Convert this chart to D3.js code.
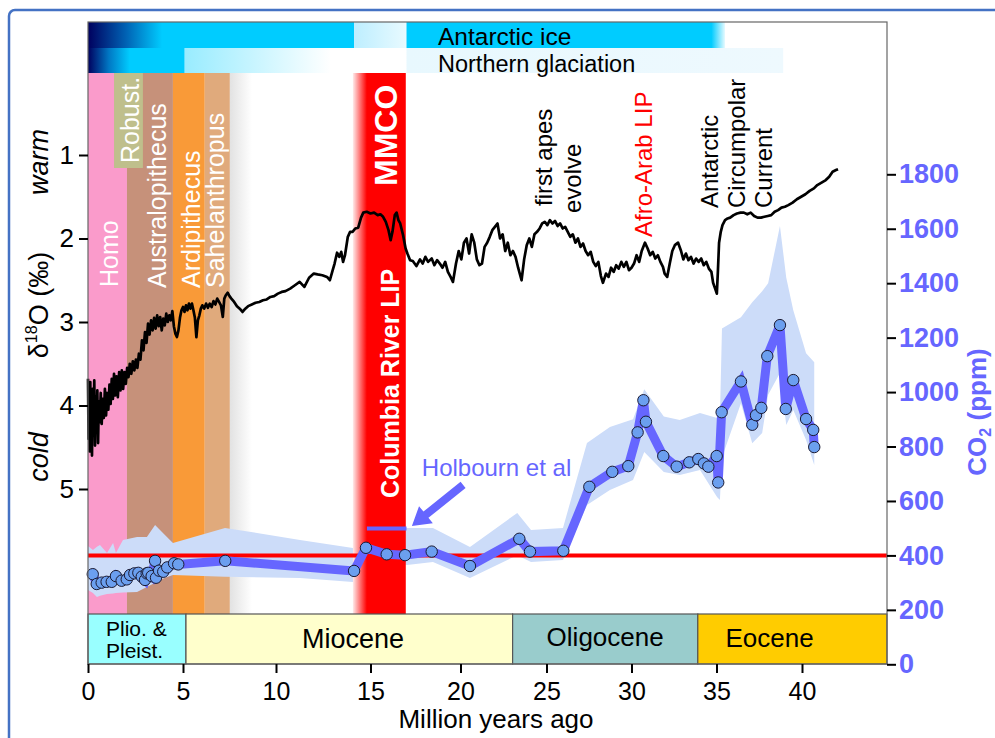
<!DOCTYPE html>
<html><head><meta charset="utf-8">
<script src="https://cdn.jsdelivr.net/npm/d3@7"></script>
<style>
body{margin:0;background:#fff}
svg{display:block}
text{font-family:"Liberation Sans",Arial,Helvetica,sans-serif}
</style>
</head><body>
<svg id="chart" width="995" height="738"></svg>
<script>
// ---------------- DATA ----------------
const ageTicks = [0,5,10,15,20,25,30,35,40];
const d18oTicks = [1,2,3,4,5];
const co2Ticks = [0,200,400,600,800,1000,1200,1400,1600,1800];

// benthic d18O (age Ma, permil)
const d18o = [
[0.00,3.68],[0.03,4.40],[0.06,3.75],[0.09,4.55],[0.12,3.72],[0.15,4.35],[0.18,3.85],[0.21,4.60],[0.25,3.80],[0.29,4.25],
[0.33,3.70],[0.37,4.48],[0.41,3.90],[0.45,4.30],[0.49,3.82],[0.53,4.45],[0.57,3.95],[0.62,4.20],[0.67,3.85],[0.72,4.22],
[0.77,3.92],[0.83,4.15],[0.89,3.80],[0.95,4.12],[1.01,3.85],[1.07,4.05],[1.13,3.75],[1.19,3.98],[1.25,3.68],[1.31,3.92],
[1.37,3.62],[1.43,3.88],[1.50,3.65],[1.57,3.90],[1.64,3.60],[1.71,3.82],[1.78,3.58],[1.85,3.80],[1.92,3.60],[1.99,3.74],
[2.06,3.55],[2.13,3.66],[2.20,3.50],[2.28,3.62],[2.36,3.47],[2.44,3.58],[2.52,3.45],[2.60,3.55],[2.68,3.38],[2.76,3.45],
[2.84,3.22],[2.92,3.34],[3.00,3.12],[3.08,3.25],[3.16,3.02],[3.24,3.15],[3.32,2.98],[3.40,3.10],[3.48,2.95],[3.56,3.08],
[3.64,2.92],[3.72,3.05],[3.80,2.94],[3.88,3.10],[3.96,2.96],[4.04,3.04],[4.12,2.90],[4.20,3.00],[4.28,2.92],[4.36,2.98],
[4.44,2.87],[4.52,3.05],[4.60,3.14],[4.68,3.18],[4.76,3.10],[4.84,2.95],[4.92,2.86],[5.00,2.82],[5.08,2.88],[5.16,2.80],
[5.24,2.86],[5.32,2.78],[5.40,2.84],[5.48,2.78],[5.56,2.86],[5.64,2.95],[5.72,3.18],[5.80,2.98],[5.88,2.92],[5.96,2.84],
[6.04,2.80],[6.14,2.84],[6.24,2.78],[6.34,2.83],[6.44,2.78],[6.54,2.82],[6.64,2.75],[6.74,2.79],[6.84,2.72],[6.94,2.76],
[7.04,2.80],[7.14,2.94],[7.22,2.72],[7.30,2.68],[7.40,2.65],[7.50,2.69],[7.60,2.72],[7.75,2.76],[7.90,2.81],[8.05,2.84],
[8.20,2.88],[8.35,2.84],[8.50,2.81],[8.70,2.79],[8.90,2.77],[9.10,2.76],[9.30,2.74],[9.50,2.73],[9.70,2.70],[9.90,2.69],
[10.10,2.66],[10.30,2.64],[10.50,2.63],[10.75,2.60],[11.00,2.56],[11.25,2.52],[11.50,2.58],[11.75,2.47],[12.00,2.42],[12.20,2.43],
[12.45,2.44],[12.70,2.46],[12.85,2.50],[13.00,2.38],[13.10,2.30],[13.23,2.17],[13.35,2.22],[13.45,2.16],[13.55,2.28],[13.65,2.20],
[13.80,1.98],[13.92,1.92],[14.05,1.92],[14.20,1.88],[14.35,1.87],[14.50,1.75],[14.62,1.69],[14.80,1.68],[15.00,1.70],[15.20,1.69],
[15.40,1.72],[15.55,1.71],[15.70,1.74],[15.85,1.80],[16.00,1.90],[16.12,2.02],[16.22,1.92],[16.35,1.72],[16.45,1.69],[16.55,1.78],
[16.65,1.82],[16.80,1.95],[16.95,2.12],[17.05,2.18],[17.20,2.26],[17.35,2.27],[17.55,2.33],[17.75,2.25],[17.90,2.30],[18.05,2.22],
[18.20,2.28],[18.40,2.24],[18.55,2.32],[18.70,2.26],[18.85,2.30],[19.00,2.35],[19.15,2.28],[19.30,2.40],[19.45,2.46],[19.58,2.52],
[19.75,2.30],[19.90,2.15],[20.05,2.25],[20.20,2.05],[20.35,2.00],[20.50,2.18],[20.65,1.95],[20.80,2.05],[20.95,2.25],[21.10,2.32],
[21.25,2.30],[21.40,2.10],[21.55,2.05],[21.70,1.98],[21.85,1.90],[22.00,1.86],[22.15,1.82],[22.30,2.00],[22.45,1.95],[22.60,2.15],
[22.75,2.05],[22.90,2.20],[23.05,2.15],[23.20,2.22],[23.35,2.35],[23.55,2.50],[23.70,2.25],[23.85,2.08],[24.00,2.00],[24.15,2.10],
[24.30,1.95],[24.45,1.92],[24.60,1.88],[24.75,1.82],[24.90,1.80],[25.05,1.84],[25.20,1.78],[25.35,1.82],[25.50,1.79],[25.65,1.85],
[25.80,1.82],[25.95,1.88],[26.10,1.86],[26.25,1.92],[26.40,1.98],[26.55,1.95],[26.70,2.05],[26.85,2.00],[27.00,2.10],[27.15,2.06],
[27.30,2.15],[27.45,2.20],[27.60,2.16],[27.75,2.28],[27.90,2.33],[28.05,2.28],[28.20,2.45],[28.32,2.53],[28.50,2.42],[28.65,2.46],
[28.80,2.35],[28.95,2.40],[29.10,2.32],[29.25,2.36],[29.40,2.28],[29.55,2.34],[29.70,2.28],[29.85,2.38],[30.00,2.35],[30.15,2.30],
[30.30,2.20],[30.45,2.28],[30.60,2.15],[30.79,2.05],[30.95,2.12],[31.10,2.20],[31.25,2.16],[31.40,2.24],[31.55,2.20],[31.70,2.28],
[31.85,2.34],[31.95,2.42],[32.10,2.46],[32.25,2.30],[32.40,2.15],[32.55,2.08],[32.74,2.05],[32.90,2.14],[33.05,2.25],[33.20,2.18],
[33.35,2.26],[33.50,2.22],[33.65,2.30],[33.80,2.24],[33.95,2.28],[34.10,2.24],[34.25,2.32],[34.40,2.28],[34.55,2.36],[34.70,2.40],
[34.80,2.53],[34.92,2.60],[35.02,2.66],[35.08,2.40],[35.15,2.05],[35.25,1.92],[35.35,1.84],[35.50,1.78],[35.65,1.76],[35.80,1.75],
[36.00,1.72],[36.20,1.70],[36.40,1.69],[36.60,1.69],[36.80,1.71],[37.00,1.69],[37.20,1.73],[37.40,1.75],[37.60,1.75],[37.80,1.74],
[38.00,1.73],[38.20,1.72],[38.40,1.68],[38.60,1.66],[38.80,1.63],[39.00,1.62],[39.20,1.60],[39.45,1.57],[39.70,1.53],[39.95,1.50],
[40.20,1.47],[40.45,1.43],[40.70,1.40],[40.90,1.36],[41.15,1.33],[41.40,1.30],[41.60,1.26],[41.80,1.20],[42.00,1.18],[42.12,1.17]
];

// CO2 proxy points (age Ma, ppm)
const co2Points = [
[0.25,331],[0.46,295],[0.72,300],[0.98,303],[1.25,303],[1.47,324],[1.77,307],[2.04,312],[2.21,328],[2.44,334],
[2.65,336],[2.83,322],[3.00,310],[3.09,334],[3.17,336],[3.35,324],[3.53,380],[3.58,318],[3.74,344],[3.96,340],
[4.17,356],[4.53,371],[4.75,367],[7.27,380],[14.13,343],[14.76,428],[15.90,404],[16.92,401],[18.40,414],[20.55,361],
[23.42,461],[24.04,414],[25.99,417],[27.52,652],[28.87,707],[29.81,728],[30.36,852],[30.70,970],[30.85,891],[31.87,765],[32.66,726],
[33.40,742],[33.93,754],[34.26,738],[34.52,726],[35.01,765],[35.10,668],[35.30,926],[36.43,1039],[37.09,880],[37.31,915],
[37.62,942],[37.97,1132],[38.71,1246],[39.05,938],[39.49,1044],[40.24,901],[40.66,861],[40.72,798]
];

// CO2 uncertainty envelope
const bandAge  = [0,0.26,0.47,0.63,1.0,1.32,1.47,1.84,2.58,3.1,3.53,4.05,4.47,7.26,11.27,14.07,14.81,15.53,17.03,18.47,20.55,23.3,24.1,25.97,27.38,28.73,30.09,30.75,31.9,32.84,34.03,35.03,35.2,35.32,36.43,37.09,37.67,38.02,38.71,39.08,39.49,40.24,40.72];
const bandHigh = [435,420,432,438,409,446,409,457,468,468,512,475,446,501,457,427,534,505,501,501,431,556,493,501,813,872,900,1010,910,897,923,905,905,1234,1275,1330,1370,1400,1610,1420,1301,1143,1110];
const bandLow  = [273,262,247,252,258,260,262,264,266,284,300,318,328,322,317,302,372,372,365,376,317,401,376,383,585,640,677,780,706,695,714,615,604,760,959,812,850,990,1070,879,934,824,732];

const holbourn = [[14.81,499],[17.0,499]];
const modernCO2 = 400;

const epochs = [
  {name:"Plio. & Pleist.", from:0, to:5.16, color:"#99ffff"},
  {name:"Miocene", from:5.16, to:23.03, color:"#ffffcc"},
  {name:"Oligocene", from:23.03, to:33.9, color:"#99cccc"},
  {name:"Eocene", from:33.9, to:45, color:"#ffcc00"}
];

const hominins = [
  {name:"Homo", from:0, to:2.05, color:"#fa9bcb"},
  {name:"Australopithecus", from:2.05, to:4.47, color:"#c6917a"},
  {name:"Ardipithecus", from:4.47, to:6.17, color:"#f99a38"},
  {name:"Sahelanthropus", from:6.17, to:7.52, color:"#e0aa7c"}
];
const robust = {name:"Robust.", from:1.37, to:2.89, color:"#bfbf8c"};

const antarcticIce = [
  [[0,"#00005e"],[2.0,"#0062b4"],[3.9,"#00ccff"],[14.13,"#00ccff"]],
  [[14.13,"#bdeeff"],[17.0,"#e8faff"]],
  [[17.0,"#00ccff"],[34.7,"#00ccff"],[35.5,"#e6faff"]]
];
const northernIce = [
  [[0,"#00005e"],[1.1,"#0078c4"],[2.2,"#00ccff"],[5.05,"#00ccff"],[5.1,"#99ecff"],[8.5,"#c4f4ff"],[12.9,"#ffffff"]],
  [[17.0,"#e8f8fe"],[38.9,"#eef9fe"]]
];
const mmco = [[14.07,"#ffeaea"],[14.81,"#ff0000"],[16.96,"#ff0000"]];
const fadeAfterSahel = [[7.52,"#e2e2e2"],[8.71,"#ffffff"]];

(function(){
// ---------------- SCALES ----------------
const svg = d3.select("#chart");
const defs = svg.append("defs");
const x = d3.scaleLinear()
  .domain([0,5,10,15,20,25,30,35,40,45])
  .range([88,183,276,370.5,460.5,546.5,631.5,716.5,802,887]);
const yD = d3.scaleLinear().domain([1,5]).range([155,489]);
const yC = d3.scaleLinear().domain([0,1800]).range([664.3,174.3]);
const topY = 22, iceMid = 48, barTop = 73, barBottom = 614, axisY = 664, rightX = 887;

let gid = 0;
function gradRect(stops, y0, y1){
  const id = "g"+(gid++);
  const x0 = x(stops[0][0]), x1 = x(stops[stops.length-1][0]);
  const g = defs.append("linearGradient").attr("id",id)
    .attr("gradientUnits","userSpaceOnUse").attr("x1",x0).attr("x2",x1).attr("y1",0).attr("y2",0);
  stops.forEach(s=>g.append("stop").attr("offset",(x(s[0])-x0)/(x1-x0)).attr("stop-color",s[1]));
  svg.append("rect").attr("x",x0).attr("y",y0).attr("width",x1-x0).attr("height",y1-y0).attr("fill",`url(#${id})`);
}
function vtext(txt, bx, by, size, opts={}){
  const t = svg.append("text").attr("transform",`translate(${bx},${by}) rotate(-90)`)
    .attr("font-size",size).attr("fill",opts.fill||"#000")
    .attr("font-weight",opts.weight||"normal").attr("font-style",opts.style||"normal")
    .attr("text-anchor",opts.anchor||"start").text(txt);
  return t;
}

// outer border
svg.append("rect").attr("x",9).attr("y",10).attr("width",1000).attr("height",750).attr("rx",6)
  .attr("fill","none").attr("stroke","#4472c4").attr("stroke-width",2.5);

// ice bars
antarcticIce.forEach(s=>gradRect(s, topY, iceMid));
northernIce.forEach(s=>gradRect(s, iceMid, barTop));

// hominin bars
svg.selectAll(".hom").data(hominins).join("rect")
  .attr("x",d=>x(d.from)).attr("width",d=>x(d.to)-x(d.from))
  .attr("y",barTop).attr("height",barBottom-barTop).attr("fill",d=>d.color);
gradRect(fadeAfterSahel, barTop, barBottom);
svg.append("rect").attr("x",x(robust.from)).attr("width",x(robust.to)-x(robust.from))
  .attr("y",barTop).attr("height",168-barTop).attr("fill",robust.color);

// hominin labels
vtext("Homo",118,287,25,{fill:"#fff"});
vtext("Robust.",139,163,25,{fill:"#fff"});
vtext("Australopithecus",166,288,25,{fill:"#fff"});
vtext("Ardipithecus",200,288,25,{fill:"#fff"});
vtext("Sahelanthropus",224,288,25,{fill:"#fff"});

// CO2 band
const area = d3.area().x(d=>x(d[0])).y0(d=>yC(d[2])).y1(d=>yC(d[1]));
svg.append("path").datum(bandAge.map((a,i)=>[a,bandHigh[i],bandLow[i]]))
  .attr("d",area).attr("fill","#ccdcf9");

// MMCO bar over band
gradRect(mmco, barTop, barBottom);
vtext("MMCO",397,186,32,{fill:"#fff",weight:"bold"});
vtext("Columbia River LIP",399,498,25,{fill:"#fff",weight:"bold"});

// annotations
vtext("first apes",552,206,24);
vtext("evolve",581,213,24);
vtext("Afro-Arab LIP",652,237,24,{fill:"#ff0000"});
vtext("Antarctic",718,208,24);
vtext("Circumpolar",745,208,24);
vtext("Current",772,208,24);

// modern CO2 line
svg.append("line").attr("x1",x(0)).attr("x2",rightX).attr("y1",yC(modernCO2)).attr("y2",yC(modernCO2))
  .attr("stroke","#ff0000").attr("stroke-width",4);

// CO2 line and points
const lineC = d3.line().x(d=>x(d[0])).y(d=>yC(d[1]));
svg.append("path").datum(co2Points).attr("d",lineC).attr("fill","none")
  .attr("stroke","#6666ff").attr("stroke-width",9).attr("stroke-linejoin","miter").attr("stroke-miterlimit",3);
svg.selectAll(".pt").data(co2Points).join("circle")
  .attr("cx",d=>x(d[0])).attr("cy",d=>yC(d[1])).attr("r",5.7)
  .attr("fill","#6b9fef").attr("stroke","#1a1a33").attr("stroke-width",1);

// Holbourn
svg.append("path").datum(holbourn).attr("d",lineC).attr("stroke","#6666ff").attr("stroke-width",4);
svg.append("text").attr("x",x(17.85)).attr("y",yC(690)).attr("font-size",24).attr("fill","#6666ff").text("Holbourn et al");
(function(){
  const tail=[x(20.15),yC(659)], tip=[x(17.3),yC(508)];
  const dx=tip[0]-tail[0], dy=tip[1]-tail[1], L=Math.hypot(dx,dy), ux=dx/L, uy=dy/L, nx=-uy, ny=ux;
  const hl=18, hw=11, sw=4;
  const bx=tip[0]-ux*hl, by=tip[1]-uy*hl;
  const pts=[[tail[0]+nx*sw,tail[1]+ny*sw],[bx+nx*sw,by+ny*sw],[bx+nx*hw,by+ny*hw],tip,[bx-nx*hw,by-ny*hw],[bx-nx*sw,by-ny*sw],[tail[0]-nx*sw,tail[1]-ny*sw]];
  svg.append("polygon").attr("points",pts.map(p=>p.join(",")).join(" ")).attr("fill","#6666ff");
})();

// d18O curve
const lineD = d3.line().x(d=>x(d[0])).y(d=>yD(d[1]));
svg.append("path").datum(d18o).attr("d",lineD).attr("fill","none")
  .attr("stroke","#000").attr("stroke-width",2.7).attr("stroke-linejoin","round");

// epochs
svg.selectAll(".ep").data(epochs).join("rect")
  .attr("x",d=>x(d.from)).attr("width",d=>x(d.to)-x(d.from))
  .attr("y",barBottom).attr("height",axisY-barBottom).attr("fill",d=>d.color)
  .attr("stroke","#555").attr("stroke-width",1.2);

svg.append("text").attr("x",x(0)+18).attr("y",636).attr("font-size",21).text("Plio. &");
svg.append("text").attr("x",x(0)+18).attr("y",658).attr("font-size",21).text("Pleist.");
svg.append("text").attr("x",353).attr("y",648).attr("font-size",27).attr("text-anchor","middle").text("Miocene");
svg.append("text").attr("x",x(28.45)).attr("y",646).attr("font-size",26).attr("text-anchor","middle").text("Oligocene");
svg.append("text").attr("x",x(38.1)).attr("y",647).attr("font-size",26).attr("text-anchor","middle").text("Eocene");

// ice labels
svg.append("text").attr("x",438).attr("y",45).attr("font-size",24.5).text("Antarctic ice");
svg.append("text").attr("x",438).attr("y",71.5).attr("font-size",23.5).text("Northern glaciation");

// frame
svg.append("rect").attr("x",x(0)).attr("y",topY).attr("width",rightX-x(0)).attr("height",axisY-topY)
  .attr("fill","none").attr("stroke","#666").attr("stroke-width",1.2);

// axes
const fmt = d3.format("d");
const ax = svg.append("g").attr("transform",`translate(0,${axisY})`)
  .call(d3.axisBottom(x).tickValues(ageTicks).tickFormat(fmt).tickSize(9).tickPadding(9).tickSizeOuter(0));
ax.select(".domain").remove();
ax.selectAll("line").attr("stroke","#000").attr("stroke-width",2);
ax.selectAll("text").attr("font-size",25).attr("fill","#000").attr("font-family",null);

const ayl = svg.append("g").attr("transform",`translate(${x(0)},0)`)
  .call(d3.axisLeft(yD).tickValues(d18oTicks).tickFormat(fmt).tickSize(9).tickPadding(5).tickSizeOuter(0));
ayl.select(".domain").remove();
ayl.selectAll("line").attr("stroke","#000").attr("stroke-width",2);
ayl.selectAll("text").attr("font-size",26).attr("fill","#000").attr("font-family",null);

const ayr = svg.append("g").attr("transform",`translate(${rightX},0)`)
  .call(d3.axisRight(yC).tickValues(co2Ticks).tickFormat(fmt).tickSize(9).tickPadding(3).tickSizeOuter(0));
ayr.select(".domain").remove();
ayr.selectAll("line").attr("stroke","#000").attr("stroke-width",2);
ayr.selectAll("text").attr("font-size",27).attr("font-weight","bold").attr("fill","#6666ff").attr("font-family",null);

// axis titles
svg.append("text").attr("x",496).attr("y",728).attr("font-size",26).attr("text-anchor","middle").text("Million years ago");
vtext("warm",48,162,27,{style:"italic",anchor:"middle"});
vtext("cold",48,457,27,{style:"italic",anchor:"middle"});
const dl = vtext("",48,305,27,{anchor:"middle"});
dl.append("tspan").text("δ");
dl.append("tspan").attr("font-size",16).attr("dy",-11).text("18");
dl.append("tspan").attr("dy",11).text("O (‰)");
const cl = vtext("",986,412,26,{anchor:"middle",weight:"bold",fill:"#6666ff"});
cl.append("tspan").text("CO");
cl.append("tspan").attr("font-size",16).attr("dy",5).text("2");
cl.append("tspan").attr("dy",-5).text(" (ppm)");
})();
</script>
</body></html>
